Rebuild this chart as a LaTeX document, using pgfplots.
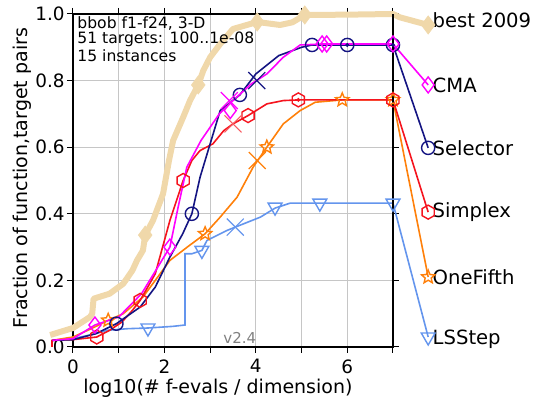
\documentclass[border=0pt]{standalone}
\usepackage{fontspec}
\setmainfont{DejaVu Sans}
\usepackage{pgfplots}
\pgfplotsset{compat=1.18}

\definecolor{best}{RGB}{240,216,170}
\definecolor{cma}{RGB}{255,0,255}
\definecolor{sel}{RGB}{20,20,130}
\definecolor{simp}{RGB}{245,20,30}
\definecolor{onef}{RGB}{255,128,10}
\definecolor{lss}{RGB}{100,149,237}

% hexagon and outlined star marks
\pgfdeclareplotmark{hexa}{%
  \pgfpathmoveto{\pgfqpointpolar{90}{\pgfplotmarksize}}%
  \pgfpathlineto{\pgfqpointpolar{150}{\pgfplotmarksize}}%
  \pgfpathlineto{\pgfqpointpolar{210}{\pgfplotmarksize}}%
  \pgfpathlineto{\pgfqpointpolar{270}{\pgfplotmarksize}}%
  \pgfpathlineto{\pgfqpointpolar{330}{\pgfplotmarksize}}%
  \pgfpathlineto{\pgfqpointpolar{30}{\pgfplotmarksize}}%
  \pgfpathclose\pgfusepathqstroke}
\pgfdeclareplotmark{star5}{%
  \pgfpathmoveto{\pgfqpointpolar{90}{\pgfplotmarksize}}%
  \pgfpathlineto{\pgfqpointpolar{126}{0.45\pgfplotmarksize}}%
  \pgfpathlineto{\pgfqpointpolar{162}{\pgfplotmarksize}}%
  \pgfpathlineto{\pgfqpointpolar{198}{0.45\pgfplotmarksize}}%
  \pgfpathlineto{\pgfqpointpolar{234}{\pgfplotmarksize}}%
  \pgfpathlineto{\pgfqpointpolar{270}{0.45\pgfplotmarksize}}%
  \pgfpathlineto{\pgfqpointpolar{306}{\pgfplotmarksize}}%
  \pgfpathlineto{\pgfqpointpolar{342}{0.45\pgfplotmarksize}}%
  \pgfpathlineto{\pgfqpointpolar{18}{\pgfplotmarksize}}%
  \pgfpathlineto{\pgfqpointpolar{54}{0.45\pgfplotmarksize}}%
  \pgfpathclose\pgfusepathqstroke}

\begin{document}
\begin{tikzpicture}
\path[use as bounding box] (-36.5pt,-29pt) rectangle (232pt,173.5pt);
\begin{axis}[
  at={(0,0)}, anchor=south west,
  scale only axis, width=160pt, height=166.5pt,
  xmin=0, xmax=7, ymin=0, ymax=1,
  clip=false,
  xtick={0,1,...,7}, xticklabels={0,,2,,4,,6,},
  ytick={0,0.2,0.4,0.6,0.8,1.0},
  yticklabel={\pgfmathprintnumber[fixed,fixed zerofill,precision=1]{\tick}},
  /pgf/number format/assume math mode=true,
  tick label style={font=\fontsize{9.2}{10}\selectfont},
  yticklabel style={anchor=east, inner sep=1pt},
  xticklabel style={anchor=north, inner sep=1pt, yshift=-2pt},
  grid=major, grid style={gray!45, line width=0.5pt},
  tick align=outside, major tick length=3pt,
  tick style={black, line width=0.5pt},
  axis line style={black, line width=0.6pt},
  xlabel={log10(\# f-evals / dimension)},
  ylabel={Fraction of function,target pairs},
  label style={font=\fontsize{9.5}{10}\selectfont},
  xlabel style={at={(axis description cs:0.453,-0.124)}, anchor=center},
  ylabel style={at={(axis description cs:-0.159,0.507)}, anchor=center},
]
% best 2009
\addplot[best, line width=3pt, line join=round] coordinates {
 (-0.5,0.036) (0,0.057) (0.37,0.09) (0.42,0.10) (0.45,0.145) (0.8,0.16) (1.1,0.19) (1.3,0.23)
 (1.4,0.26) (1.53,0.29) (1.58,0.336) (1.75,0.38) (1.97,0.46) (2.1,0.56) (2.19,0.62) (2.41,0.69)
 (2.56,0.74) (2.74,0.787) (2.85,0.83) (3.0,0.87) (3.22,0.91) (3.5,0.955) (4.03,0.976) (4.53,0.967)
 (4.8,0.975) (5.07,0.997) (6,0.998) (7,1.0) (7.15,0.99) (7.77,0.967)};
\addplot[best, only marks, mark=diamond*, mark size=4.5pt] coordinates {
 (1.58,0.336) (2.74,0.787) (4.03,0.976) (5.07,0.997) (7.77,0.967)};

% LSStep
\addplot[lss, line width=0.8pt] coordinates {
 (-0.45,0.02) (0,0.025) (0.5,0.04) (0.74,0.05) (1.2,0.055) (1.64,0.057) (2.19,0.062) (2.45,0.066)
 (2.45,0.28) (2.6,0.28) (2.82,0.29) (2.93,0.32) (3.37,0.35) (3.55,0.36) (4.1,0.39) (4.42,0.417)
 (4.75,0.432) (5.4,0.432) (7,0.432) (7.77,0.03)};
\addplot[lss, only marks, mark=triangle, mark size=4pt, mark options={rotate=180, line width=0.7pt}] coordinates {
 (1.64,0.057) (2.82,0.29) (4.42,0.42) (5.4,0.432) (7,0.432) (7.77,0.03)};
\addplot[lss, only marks, mark=x, mark size=6pt, mark options={line width=0.6pt}] coordinates {(3.55,0.36)};

% OneFifth
\addplot[onef, line width=0.8pt] coordinates {
 (-0.45,0.02) (0,0.03) (0.4,0.055) (0.77,0.08) (1.1,0.1) (1.53,0.15) (1.8,0.2) (2.12,0.26)
 (2.5,0.3) (2.89,0.34) (3.22,0.39) (3.59,0.45) (3.94,0.54) (4.24,0.60) (4.6,0.67) (4.97,0.71)
 (5.3,0.735) (5.89,0.742) (7,0.742) (7.77,0.21)};
\addplot[onef, only marks, mark=star5, mark size=3.5pt, mark options={line width=0.7pt}] coordinates {
 (0.77,0.08) (2.89,0.34) (4.24,0.60) (5.89,0.742) (7,0.742) (7.77,0.21)};
\addplot[onef, only marks, mark=x, mark size=6pt, mark options={line width=0.6pt}] coordinates {(4.03,0.56)};

% Simplex
\addplot[simp, line width=0.8pt] coordinates {
 (-0.46,0.0) (-0.46,0.02) (0,0.022) (0.52,0.03) (0.8,0.05) (1.07,0.075) (1.3,0.11) (1.47,0.14)
 (1.8,0.22) (2.12,0.38) (2.41,0.50) (2.6,0.56) (2.78,0.59) (3.06,0.61) (3.3,0.65) (3.5,0.67)
 (3.83,0.695) (4.24,0.73) (4.6,0.74) (4.93,0.742) (7,0.742) (7.77,0.405)};
\addplot[simp, only marks, mark=hexa, mark size=3.5pt, mark options={line width=0.7pt}] coordinates {
 (0.52,0.03) (1.47,0.14) (2.41,0.50) (3.83,0.695) (4.93,0.742) (7,0.742) (7.77,0.405)};
\addplot[simp!70, only marks, mark=x, mark size=6pt, mark options={line width=0.6pt}] coordinates {(3.5,0.67)};

% Selector
\addplot[sel, line width=0.8pt] coordinates {
 (-0.45,0.02) (0,0.022) (0.5,0.04) (0.95,0.07) (1.47,0.12) (1.8,0.18) (2.12,0.27) (2.4,0.34)
 (2.6,0.40) (2.78,0.51) (3.0,0.61) (3.22,0.71) (3.65,0.757) (4.0,0.82) (4.5,0.875) (5.0,0.90)
 (5.23,0.907) (6,0.907) (7,0.907) (7.77,0.598)};
\addplot[sel, only marks, mark=o, mark size=3.3pt, mark options={line width=0.7pt}] coordinates {
 (0.95,0.07) (2.6,0.40) (3.65,0.757) (5.23,0.907) (6,0.907) (7,0.907) (7.77,0.598)};
\addplot[sel, only marks, mark=*, mark size=0.8pt] coordinates {(6,0.907) (7,0.907)};
\addplot[sel, only marks, mark=x, mark size=6pt, mark options={line width=0.6pt}] coordinates {(4.02,0.80)};

% CMA
\addplot[cma, line width=0.8pt] coordinates {
 (-0.45,0.02) (0,0.025) (0.48,0.066) (1.0,0.09) (1.5,0.16) (1.9,0.25) (2.12,0.30) (2.3,0.42)
 (2.49,0.54) (2.8,0.62) (3.2,0.70) (3.5,0.74) (3.9,0.79) (4.24,0.82) (4.6,0.87) (4.97,0.907)
 (5.5,0.91) (7,0.91) (7.77,0.787)};
\addplot[cma, only marks, mark=diamond, mark size=4pt, mark options={line width=0.7pt}] coordinates {
 (0.48,0.066) (2.12,0.30) (3.44,0.71) (5.45,0.91) (5.55,0.91) (7,0.91) (7.77,0.787)};
\addplot[cma, only marks, mark=x, mark size=6pt, mark options={line width=0.6pt}] coordinates {(3.42,0.74)};
\addplot[simp, only marks, mark=*, mark size=0.8pt] coordinates {(4.93,0.742)};

% budget line
\draw[black, line width=1pt] (axis cs:7,0) -- (axis cs:7,1);

% labels
\node[anchor=west, inner sep=0pt, font=\fontsize{9.8}{10}\selectfont] at (axis cs:7.86,0.982) {best 2009};
\node[anchor=west, inner sep=0pt, font=\fontsize{9.8}{10}\selectfont] at (axis cs:7.86,0.787) {CMA};
\node[anchor=west, inner sep=0pt, font=\fontsize{9.8}{10}\selectfont] at (axis cs:7.86,0.598) {Selector};
\node[anchor=west, inner sep=0pt, font=\fontsize{9.8}{10}\selectfont] at (axis cs:7.86,0.405) {Simplex};
\node[anchor=west, inner sep=0pt, font=\fontsize{9.8}{10}\selectfont] at (axis cs:7.86,0.21) {OneFifth};
\node[anchor=west, inner sep=0pt, font=\fontsize{9.8}{10}\selectfont] at (axis cs:7.86,0.024) {LSStep};

\node[anchor=north west, inner sep=0pt, align=left, font=\fontsize{7.8}{6.6}\selectfont]
  at (axis description cs:0.0125,0.993) {bbob f1-f24, 3-D\\51 targets: 100..1e-08\\15 instances};
\node[gray, font=\fontsize{7.5}{8}\selectfont] at (axis cs:3.65,0.027) {v2.4};
\end{axis}
\end{tikzpicture}
\end{document}
